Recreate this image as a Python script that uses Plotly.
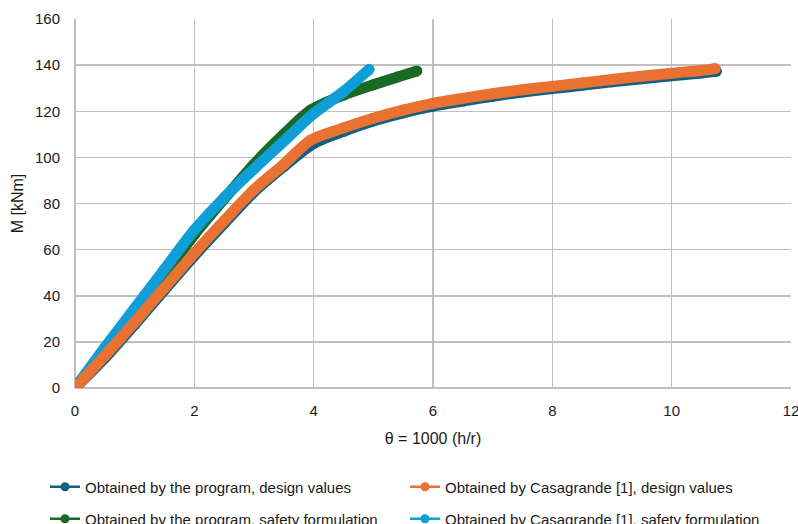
import plotly.graph_objects as go

# Obtained by the program, design values
prog_design_x = [0, 0.5, 1, 1.5, 2, 2.5, 3, 3.5, 4.0, 4.5, 5, 5.5, 6, 6.5, 7, 7.5, 8, 8.5, 9, 9.5, 10, 10.5, 10.75]
prog_design_y = [0, 13.0, 27.5, 42.5, 57.3, 71.3, 85.0, 96.0, 106.0, 111.3, 115.8, 119.3, 122.2, 124.4, 126.5, 128.3, 129.8, 131.3, 132.8, 134.1, 135.4, 136.6, 137.3]

# Obtained by Casagrande [1], design values
cas_design_x = [0, 0.5, 1, 1.5, 2, 2.5, 3, 3.5, 3.95, 4.5, 5, 5.5, 6, 6.5, 7, 7.5, 8, 8.5, 9, 9.5, 10, 10.5, 10.73]
cas_design_y = [0, 14.0, 28.5, 43.5, 58.4, 72.5, 86.0, 97.0, 107.5, 112.8, 117.0, 120.5, 123.4, 125.6, 127.6, 129.3, 130.8, 132.3, 133.8, 135.2, 136.5, 137.7, 138.5]

# Obtained by the program, safety formulation
prog_safety_x = [0, 0.5, 1, 1.5, 2, 2.5, 3, 3.5, 3.95, 4.5, 5, 5.4, 5.73]
prog_safety_y = [0, 16.0, 32.0, 49.0, 66.5, 82.0, 97.0, 110.0, 120.5, 127.0, 131.5, 134.8, 137.5]

# Obtained by Casagrande [1], safety formulation
cas_safety_x = [0, 0.5, 1, 1.5, 2, 2.5, 3, 3.5, 4, 4.5, 4.93]
cas_safety_y = [0, 17.5, 34.5, 51.5, 68.5, 82.5, 95.0, 107.0, 119.0, 128.5, 138.2]

names = [
    "Obtained by the program, design values",
    "Obtained by Casagrande [1], design values",
    "Obtained by the program, safety formulation",
    "Obtained by Casagrande [1], safety formulation",
]
colors = ["#156082", "#E97132", "#196B24", "#0F9ED5"]

series = [
    (prog_design_x, prog_design_y),
    (cas_design_x, cas_design_y),
    (prog_safety_x, prog_safety_y),
    (cas_safety_x, cas_safety_y),
]

W, H = 798, 524

fig = go.Figure()

# draw order: green, light blue, dark blue, orange (orange on top of dark blue)
for i in [2, 3, 0, 1]:
    xs, ys = series[i]
    fig.add_trace(go.Scatter(
        x=xs, y=ys, mode="lines+markers",
        line=dict(color=colors[i], width=11, shape="spline", smoothing=0.8),
        marker=dict(color=colors[i], size=11),
        showlegend=False, hoverinfo="skip",
    ))

# legend entries: one legend per entry (2 columns x 2 rows)
legend_ids = ["legend", "legend2", "legend3", "legend4"]
leg_left = [45, 405, 45, 405]
leg_mid = [487, 487, 519, 519]
for i in range(4):
    fig.add_trace(go.Scatter(
        x=[None], y=[None], mode="lines+markers", name=names[i],
        line=dict(color=colors[i], width=2.5),
        marker=dict(color=colors[i], size=9),
        legend=legend_ids[i],
    ))

font_family = "Liberation Sans Narrow, Liberation Sans, Arial, sans-serif"

legends = {}
for i, lid in enumerate(legend_ids):
    legends[lid] = dict(
        orientation="h", xref="container", yref="container",
        x=leg_left[i] / W, xanchor="left",
        y=1 - leg_mid[i] / H, yanchor="middle",
        font=dict(family=font_family, size=15, color="#1a1a1a"),
        bgcolor="rgba(0,0,0,0)", itemwidth=30,
    )

fig.update_layout(
    width=W, height=H,
    margin=dict(l=75, r=W - 75 - 716, t=19, b=H - 19 - 369, autoexpand=False),
    paper_bgcolor="white", plot_bgcolor="white",
    font=dict(family="Liberation Sans, Arial, sans-serif", size=15, color="#1a1a1a"),
    xaxis=dict(
        range=[0, 12], dtick=2, tick0=0,
        showgrid=True, gridcolor="#bfbfbf", gridwidth=1.5,
        zeroline=True, zerolinecolor="#bfbfbf", zerolinewidth=1.5,
        showline=False, ticks="", ticklabelstandoff=12, ticklabeloverflow="allow",
        title=dict(text="θ = 1000 (h/r)", standoff=14, font=dict(size=16)),
        fixedrange=True, automargin=False,
    ),
    yaxis=dict(
        range=[0, 160], dtick=20, tick0=0,
        showgrid=True, gridcolor="#bfbfbf", gridwidth=1.5,
        zeroline=True, zerolinecolor="#bfbfbf", zerolinewidth=1.5,
        showline=False, ticks="", ticklabelstandoff=14, ticklabeloverflow="allow",
        title=dict(text="M [kNm]", standoff=7, font=dict(size=16)),
        fixedrange=True, automargin=False,
    ),
    hovermode=False,
    **legends,
)

fig.write_html(
    "out.html",
    config={"displayModeBar": False, "staticPlot": True},
    post_script="document.body.style.margin='0';document.body.style.overflow='hidden';",
)
